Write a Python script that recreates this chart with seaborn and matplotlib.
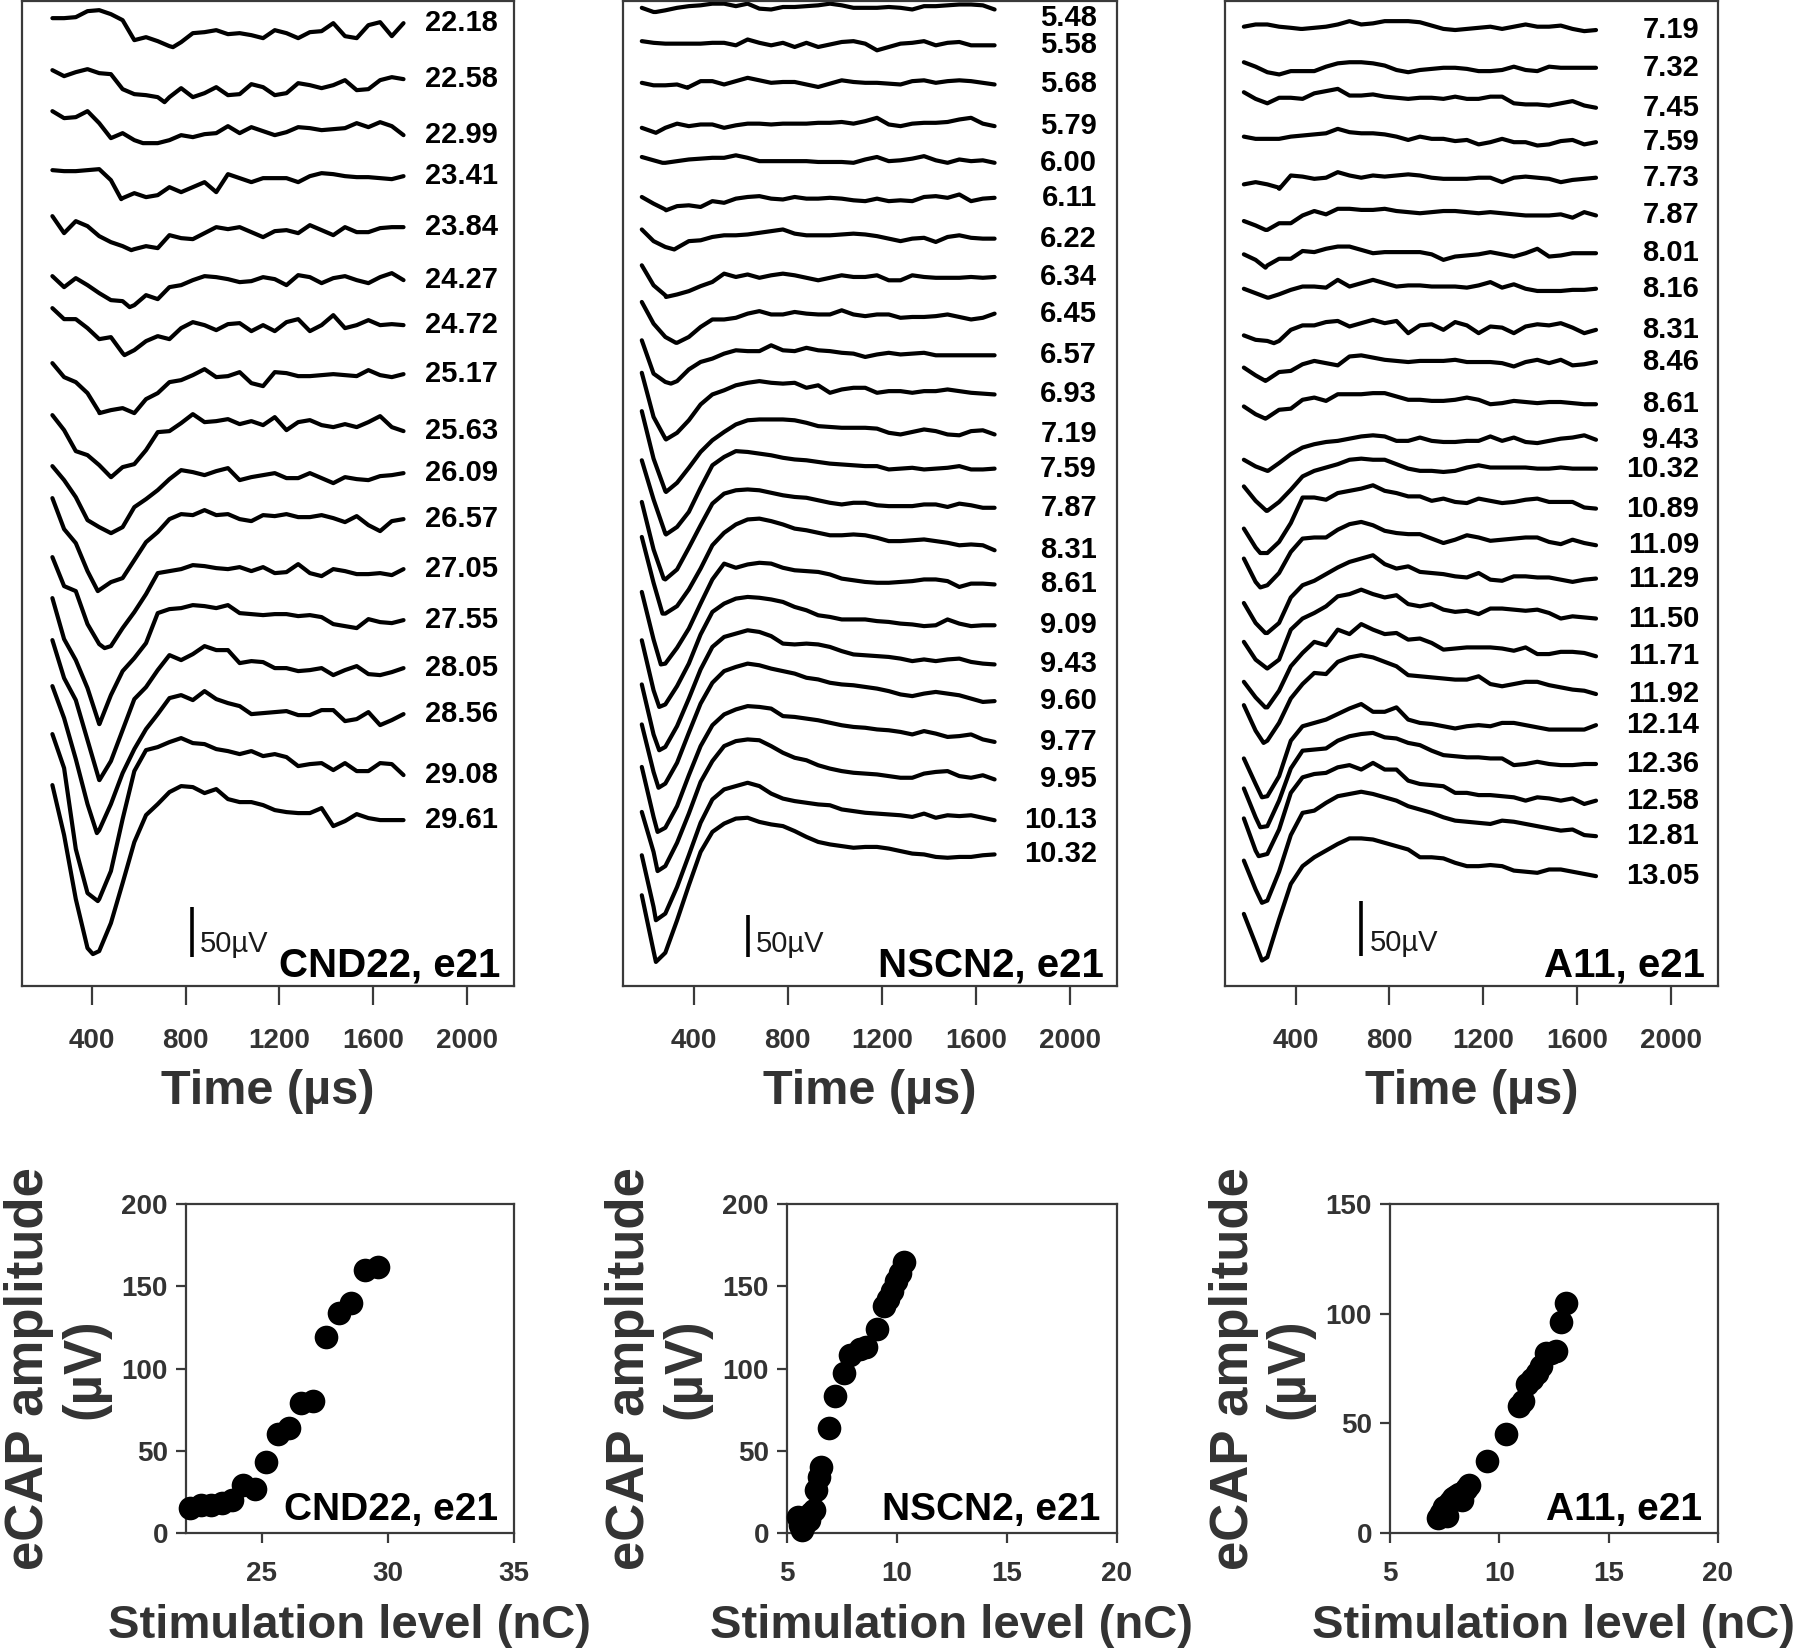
import numpy as np
import matplotlib
matplotlib.use("Agg")
import matplotlib.pyplot as plt
import seaborn as sns

# ---------------- CND22, e21 ----------------
cnd22_levels = [22.18, 22.58, 22.99, 23.41, 23.84, 24.27, 24.72, 25.17, 25.63,
                26.09, 26.57, 27.05, 27.55, 28.05, 28.56, 29.08, 29.61]
cnd22_t0 = 230  # first sample (us), samples every 50 us
# where each trace starts, uV below the top of the panel
cnd22_offsets = [17, 69, 110, 169, 215, 275, 307, 362, 414, 465, 497, 556, 597, 639, 685, 733, 784]
cnd22_traces = [
    [0, 0, 1, 7, 8, 4, -2, -22, -19, -23, -28, -24, -15, -14, -12, -16, -15, -17, -20, -12, -15, -20, -14, -13, -5, -18, -20, -7, -4, -18, -5],
    [0, -6, -2, 1, -3, -4, -19, -24, -25, -27, -27, -18, -27, -23, -17, -25, -24, -14, -17, -25, -23, -13, -15, -18, -15, -10, -20, -19, -10, -7, -9],
    [0, -7, -6, 0, -12, -27, -22, -29, -32, -32, -29, -24, -26, -23, -22, -15, -22, -16, -20, -24, -21, -16, -17, -19, -18, -17, -12, -16, -11, -15, -24],
    [0, -1, -1, 0, 1, -10, -28, -23, -27, -25, -17, -22, -17, -12, -22, -4, -8, -12, -8, -8, -8, -12, -6, -3, -4, -6, -7, -7, -8, -9, -6],
    [0, -17, -5, -10, -20, -26, -30, -33, -30, -32, -19, -22, -23, -17, -11, -13, -11, -16, -21, -15, -14, -17, -9, -14, -19, -11, -16, -16, -12, -11, -11],
    [0, -11, -2, -9, -17, -24, -25, -29, -19, -23, -11, -9, -4, 0, -1, -3, -6, -5, -1, -3, -9, 1, -1, -7, -2, 0, -4, -7, -1, 3, -4],
    [0, -11, -11, -20, -31, -29, -45, -42, -33, -28, -31, -20, -14, -17, -22, -16, -15, -23, -17, -23, -14, -11, -23, -17, -7, -20, -17, -12, -17, -16, -17],
    [0, -14, -19, -30, -49, -47, -45, -50, -36, -30, -19, -17, -12, -6, -14, -13, -9, -20, -23, -9, -10, -13, -13, -12, -11, -12, -13, -7, -12, -14, -11],
    [0, -15, -36, -40, -50, -62, -52, -49, -35, -17, -16, -8, 1, -7, -6, -4, -9, -6, -10, -2, -15, -7, -5, -10, -12, -9, -12, -7, -1, -12, -16],
    [0, -14, -31, -54, -61, -67, -61, -41, -33, -24, -13, -4, -6, -9, -5, -2, -14, -11, -9, -7, -12, -12, -7, -12, -17, -11, -13, -14, -10, -9, -7],
    [0, -31, -45, -73, -92, -84, -80, -62, -44, -34, -21, -16, -17, -12, -17, -16, -21, -23, -17, -18, -16, -19, -19, -17, -20, -24, -18, -27, -33, -23, -21],
    [0, -29, -34, -67, -87, -89, -71, -55, -37, -16, -14, -12, -8, -9, -11, -12, -10, -14, -10, -16, -15, -7, -16, -19, -12, -14, -17, -17, -16, -18, -12],
    [0, -41, -62, -90, -126, -97, -73, -60, -45, -15, -11, -10, -7, -8, -10, -7, -15, -16, -17, -16, -16, -18, -17, -19, -26, -28, -30, -21, -24, -25, -22],
    [0, -38, -60, -100, -140, -121, -90, -59, -47, -30, -15, -20, -14, -6, -10, -10, -23, -21, -22, -28, -28, -31, -30, -28, -35, -30, -26, -34, -35, -32, -28],
    [0, -32, -73, -118, -144, -118, -87, -63, -43, -28, -12, -9, -14, -5, -13, -17, -20, -28, -27, -26, -25, -29, -29, -24, -24, -35, -33, -26, -39, -34, -28],
    [0, -34, -115, -159, -165, -137, -85, -37, -16, -13, -8, -4, -9, -10, -15, -17, -20, -17, -22, -20, -23, -32, -30, -29, -36, -29, -37, -37, -29, -30, -41],
    [0, -50, -114, -163, -166, -138, -98, -57, -30, -19, -7, -1, -2, -8, -4, -14, -17, -17, -20, -25, -27, -28, -28, -23, -41, -36, -29, -33, -35, -35, -35],
]
cnd22_n1_time = [745, 709, 617, 524, 567, 560, 538, 431, 481, 481, 424, 453, 431, 431, 420, 424, 403]
cnd22_n1_amp = [-29, -32, -32, -29, -34, -31, -47, -50, -62, -67, -93, -91, -126, -140, -147, -167, -169]
cnd22_ecap = [15, 17, 17, 18, 20, 29, 27, 43, 60, 64, 79, 80, 119, 134, 140, 160, 162]

# ---------------- NSCN2, e21 ----------------
nscn2_levels = [5.48, 5.58, 5.68, 5.79, 6.00, 6.11, 6.22, 6.34, 6.45, 6.57, 6.93, 7.19,
                7.59, 7.87, 8.31, 8.61, 9.09, 9.43, 9.60, 9.77, 9.95, 10.13, 10.32]
nscn2_t0 = 180
nscn2_offsets = [8, 48, 98, 152, 187, 235, 274, 317, 361, 407, 446, 492,
                 551, 601, 643, 709, 767, 820, 868, 919, 973, 1025, 1073]
nscn2_traces = [
    [0, -5, -3, 0, 2, 3, 5, 5, 2, 5, -1, -2, 1, 1, 2, 3, 5, 3, 0, 0, 0, 1, 0, -2, 2, 2, 3, 4, 4, 3, -2],
    [0, -2, -3, -3, -3, -3, -2, -2, -5, 2, -2, -5, -2, -7, -2, -7, -4, -1, 0, -3, -11, -7, -3, -2, 0, -5, -2, -1, -5, -5, -5],
    [0, -3, -3, -2, -5, 2, 2, -2, 2, 6, 3, 0, 1, 1, -2, -5, -1, 3, 1, 0, 0, -1, -2, 2, 3, 0, 2, 3, 2, 0, -2],
    [0, -5, 0, 5, 2, 4, 4, 0, 3, 5, 5, 4, 5, 5, 5, 6, 6, 7, 5, 8, 12, 4, 2, 5, 6, 6, 7, 10, 12, 5, 2],
    [0, -4, -7, -5, -3, -2, -1, -1, 2, -1, -5, -5, -5, -5, -5, -6, -6, -6, -7, -3, 0, -5, -4, -2, 1, -4, -7, -3, -5, -4, -7],
    [0, -8, -15, -11, -10, -12, -5, -7, -2, 0, 1, -2, -3, 0, -2, -2, -1, -2, -4, -5, -2, -5, -4, -5, 0, 1, -1, 3, -5, -2, -1],
    [0, -14, -21, -22, -14, -13, -9, -7, -7, -6, -4, -2, 0, -5, -7, -7, -7, -6, -5, -6, -8, -11, -14, -11, -10, -15, -9, -7, -10, -11, -11],
    [0, -24, -36, -35, -31, -25, -20, -10, -14, -11, -15, -12, -10, -12, -15, -18, -15, -12, -14, -14, -12, -18, -18, -12, -14, -15, -15, -15, -14, -15, -14],
    [0, -26, -42, -49, -42, -30, -21, -21, -19, -14, -11, -15, -15, -12, -14, -15, -15, -10, -15, -17, -15, -15, -19, -18, -18, -17, -15, -18, -21, -19, -14],
    [0, -40, -50, -49, -35, -26, -22, -16, -12, -13, -13, -6, -12, -13, -9, -12, -13, -15, -16, -20, -17, -15, -17, -16, -15, -18, -18, -18, -18, -18, -18],
    [0, -53, -79, -72, -57, -38, -26, -21, -15, -12, -10, -12, -13, -12, -18, -15, -24, -20, -18, -18, -24, -22, -22, -24, -22, -22, -20, -22, -24, -25, -26],
    [0, -57, -96, -86, -68, -49, -35, -25, -16, -11, -10, -10, -10, -11, -14, -18, -19, -20, -20, -20, -21, -26, -28, -25, -22, -24, -28, -29, -24, -23, -28],
    [0, -47, -88, -80, -62, -33, -6, 4, 11, 10, 8, 6, 3, 1, 0, -2, -4, -5, -6, -7, -7, -11, -10, -9, -11, -10, -9, -7, -11, -11, -10],
    [0, -57, -93, -81, -55, -28, -2, 10, 14, 15, 14, 11, 8, 6, 5, 2, -1, -3, -1, -1, -4, -5, -5, -5, -3, -3, -6, -2, -4, -7, -7],
    [0, -55, -92, -83, -63, -38, -10, 5, 15, 21, 22, 19, 15, 10, 8, 5, 2, 2, 3, 2, -1, -5, -5, -4, -3, -5, -7, -10, -9, -10, -16],
    [0, -57, -86, -67, -44, -14, 15, 34, 29, 33, 35, 34, 29, 26, 25, 24, 21, 16, 14, 12, 11, 11, 12, 13, 15, 15, 13, 6, 10, 10, 9],
    [0, -60, -77, -55, -28, 7, 34, 44, 50, 52, 51, 49, 46, 40, 36, 30, 28, 25, 25, 25, 23, 22, 20, 19, 17, 18, 25, 20, 17, 18, 18],
    [0, -60, -75, -50, -17, 18, 45, 57, 61, 65, 63, 58, 49, 48, 49, 48, 45, 40, 36, 35, 34, 33, 31, 28, 30, 28, 30, 31, 27, 25, 24],
    [0, -57, -71, -46, -10, 25, 50, 64, 69, 73, 71, 67, 64, 61, 56, 54, 50, 48, 47, 45, 43, 40, 36, 34, 37, 39, 37, 35, 31, 27, 28],
    [0, -60, -73, -47, -10, 25, 50, 63, 69, 73, 72, 70, 61, 60, 58, 56, 53, 50, 48, 47, 45, 44, 42, 39, 43, 40, 36, 37, 39, 33, 30],
    [0, -48, -65, -37, -2, 36, 61, 79, 85, 87, 86, 79, 71, 65, 62, 56, 52, 49, 47, 46, 45, 43, 41, 41, 46, 48, 49, 43, 41, 44, 39],
    [0, -62, -70, -38, 0, 39, 67, 79, 83, 87, 83, 74, 68, 65, 63, 61, 60, 55, 53, 51, 50, 49, 48, 46, 50, 45, 48, 47, 48, 45, 42],
    [0, -67, -69, -30, 12, 52, 76, 86, 92, 93, 88, 85, 83, 77, 70, 64, 61, 59, 57, 58, 58, 56, 53, 50, 49, 46, 45, 46, 46, 48, 49],
]
nscn2_n1_time = [240, 304, 375, 240, 268, 283, 318, 283, 325, 304, 283, 283,
                 283, 273, 268, 261, 254, 254, 251, 247, 247, 240, 240]
nscn2_n1_amp = [-5, -3, -6, -6, -7, -16, -24, -38, -49, -52, -80, -97,
                -89, -92, -92, -87, -80, -79, -76, -78, -71, -78, -80]
nscn2_ecap = [10, 5, 2, 5, 8, 12, 14, 26, 34, 40, 64, 83, 97, 108, 112, 113,
              124, 138, 142, 147, 153, 158, 165]

# ---------------- A11, e21 ----------------
a11_levels = [7.19, 7.32, 7.45, 7.59, 7.73, 7.87, 8.01, 8.16, 8.31, 8.46, 8.61, 9.43,
              10.32, 10.89, 11.09, 11.29, 11.50, 11.71, 11.92, 12.14, 12.36, 12.58, 12.81, 13.05]
a11_t0 = 180
a11_offsets = [23, 55, 82, 122, 165, 198, 228, 259, 301, 330, 365, 413,
               437, 475, 502, 542, 577, 613, 634, 682, 709, 736, 774, 822]
a11_traces = [
    [0, 2, 2, 0, -1, -2, -1, 0, 2, 5, 2, 3, 5, 5, 5, 4, 1, -2, -3, -2, -1, 0, -2, 0, 2, 0, 0, 1, -2, -4, -3],
    [0, -4, -9, -11, -8, -8, -8, -4, -1, 0, 0, -1, -3, -7, -9, -7, -6, -5, -5, -6, -8, -8, -7, -4, -7, -8, -4, -5, -5, -5, -5],
    [0, -6, -10, -5, -5, -6, -1, 1, 3, -3, -3, -2, -4, -5, -6, -5, -5, -6, -4, -6, -6, -4, -4, -10, -11, -11, -12, -10, -8, -12, -14],
    [0, -2, -2, -2, 0, 1, 2, 3, 7, 4, 3, 3, 2, 0, -3, 0, -2, -2, -4, -3, -7, -5, -2, -5, -5, -8, -7, -4, -3, -7, -5],
    [0, 2, 0, -3, 8, 7, 5, 6, 11, 8, 6, 8, 7, 8, 9, 8, 6, 5, 5, 5, 6, 6, 2, 6, 7, 6, 5, 2, 4, 5, 6],
    [0, -4, -8, -2, -2, 5, 9, 6, 11, 11, 10, 10, 11, 9, 8, 7, 8, 9, 9, 8, 7, 8, 7, 6, 5, 5, 5, 6, 3, 8, 5],
    [0, -5, -10, -4, -4, 3, 2, 5, 7, 7, 4, 1, 2, 2, 2, 2, 0, -5, -2, -1, 0, 2, 0, -2, 1, 5, -2, -1, 1, 1, 1],
    [0, -4, -8, -5, -1, 2, 2, 1, 8, 2, 5, 8, 5, 2, 3, 3, 2, 2, 2, 1, 3, 6, 1, 4, 0, -2, -2, -2, -1, -1, 0],
    [0, -4, -5, -5, 5, 9, 9, 12, 13, 8, 11, 14, 11, 13, 2, 9, 10, 5, 12, 9, 2, 8, 7, 2, 8, 10, 9, 11, 7, 2, 5],
    [0, -7, -11, -4, -3, 3, 6, 4, 2, 10, 11, 9, 7, 6, 5, 6, 6, 6, 7, 5, 5, 5, 4, 1, 5, 7, 4, 7, 2, 3, 5],
    [0, -7, -10, -3, -2, 6, 8, 5, 11, 11, 11, 12, 12, 9, 6, 6, 5, 5, 6, 8, 6, 2, 3, 5, 4, 3, 4, 4, 3, 2, 2],
    [0, -6, -10, -3, 5, 11, 14, 16, 17, 19, 21, 22, 21, 17, 17, 20, 17, 16, 16, 17, 17, 21, 17, 20, 16, 15, 17, 19, 20, 22, 18],
    [0, -13, -22, -14, -3, 9, 14, 17, 20, 24, 25, 24, 24, 20, 16, 14, 14, 13, 14, 17, 19, 17, 17, 17, 17, 16, 16, 17, 16, 16, 16],
    [0, -17, -22, -12, 5, 28, 28, 26, 32, 34, 36, 39, 34, 32, 29, 29, 25, 27, 24, 23, 27, 25, 23, 24, 26, 27, 24, 24, 24, 19, 18],
    [0, -21, -24, -13, 6, 18, 19, 19, 26, 31, 33, 30, 25, 23, 22, 22, 18, 14, 17, 21, 19, 16, 17, 18, 19, 19, 15, 13, 17, 14, 12],
    [0, -18, -27, -18, 5, 16, 20, 26, 32, 37, 40, 43, 35, 31, 33, 28, 27, 26, 24, 23, 27, 21, 20, 24, 24, 23, 23, 21, 19, 21, 22],
    [0, -16, -24, -16, 11, 21, 26, 32, 41, 43, 47, 43, 40, 42, 34, 32, 34, 29, 27, 28, 25, 30, 30, 29, 28, 29, 26, 21, 23, 22, 21],
    [0, -14, -23, -8, 14, 26, 36, 33, 47, 43, 52, 47, 43, 44, 38, 39, 35, 29, 30, 31, 31, 31, 30, 28, 31, 25, 25, 27, 27, 26, 23],
    [0, -23, -32, -16, 6, 19, 29, 28, 39, 43, 45, 43, 39, 35, 27, 26, 25, 24, 23, 23, 26, 19, 17, 19, 21, 21, 18, 16, 14, 13, 10],
    [0, -23, -34, -16, 16, 29, 32, 35, 40, 45, 49, 42, 42, 46, 35, 32, 31, 29, 27, 29, 30, 29, 32, 32, 30, 28, 26, 26, 26, 26, 30],
    [0, -26, -34, -11, 18, 34, 35, 36, 43, 47, 49, 50, 46, 45, 41, 39, 34, 30, 29, 28, 28, 27, 27, 21, 22, 24, 22, 21, 21, 22, 22],
    [0, -29, -32, -10, 23, 37, 40, 41, 46, 48, 44, 50, 44, 44, 34, 31, 30, 29, 23, 23, 21, 21, 20, 19, 16, 19, 18, 16, 18, 13, 16],
    [0, -26, -36, -10, 23, 43, 45, 52, 58, 60, 62, 60, 57, 54, 49, 46, 43, 39, 36, 35, 34, 33, 36, 35, 33, 31, 29, 27, 28, 23, 22],
    [0, -27, -39, -5, 27, 43, 51, 57, 63, 68, 68, 67, 64, 61, 58, 51, 51, 50, 46, 43, 43, 44, 43, 39, 38, 37, 40, 40, 38, 36, 34],
]
a11_n1_time = [422, 331, 280, 280, 331, 272, 272, 286, 308, 272, 272, 283,
               276, 250, 250, 271, 279, 271, 264, 257, 250, 243, 257, 257]
a11_n1_amp = [-2, -11, -10, -2, -4, -8, -12, -8, -7, -12, -11, -10,
              -22, -22, -26, -27, -24, -23, -34, -35, -35, -34, -38, -42]
a11_ecap = [7, 9, 12, 8, 14, 16, 17, 18, 15, 20, 22, 33, 45, 58, 60, 68, 70, 73,
            76, 82, 82, 83, 96, 105]

panel_names = ["CND22, e21", "NSCN2, e21", "A11, e21"]

# ---------------- style ----------------
sns.set_theme(style="ticks")
plt.rcParams["font.family"] = ["Liberation Sans", "DejaVu Sans"]
plt.rcParams.update({
    "font.weight": "bold",
    "axes.labelweight": "bold",
    "axes.edgecolor": "#3a3a3a",
    "axes.linewidth": 1.6,
    "xtick.color": "#3a3a3a",
    "ytick.color": "#3a3a3a",
    "xtick.labelcolor": "#333333",
    "ytick.labelcolor": "#333333",
    "axes.labelcolor": "#333333",
})

fig = plt.figure(figsize=(18, 16.52), dpi=100)

top_pos = [[0.0122, 0.4031, 0.2731, 0.5962],
           [0.3461, 0.4031, 0.2744, 0.5962],
           [0.6806, 0.4031, 0.2739, 0.5962]]
bot_pos = [[0.1033, 0.0720, 0.1822, 0.1992],
           [0.4372, 0.0720, 0.1833, 0.1992],
           [0.7722, 0.0720, 0.1822, 0.1992]]

panels = [
    (cnd22_levels, cnd22_t0, cnd22_offsets, cnd22_traces, cnd22_n1_time, cnd22_n1_amp, cnd22_ecap),
    (nscn2_levels, nscn2_t0, nscn2_offsets, nscn2_traces, nscn2_n1_time, nscn2_n1_amp, nscn2_ecap),
    (a11_levels, a11_t0, a11_offsets, a11_traces, a11_n1_time, a11_n1_amp, a11_ecap),
]
span = [985, 1182, 887]          # vertical extent of each trace panel (uV)
bar_x = [826, 631, 679]          # scale bar position (us)
bar_bottom = [-956, -1147, -860]
label_x = [2134, 2115, 2120]
scatter_xlim = [(22, 35), (5, 20), (5, 20)]
scatter_xticks = [[25, 30, 35], [5, 10, 15, 20], [5, 10, 15, 20]]
scatter_ylim = [200, 200, 150]

for i, (levels, t0, offsets, traces, n1_t, n1_v, ecap) in enumerate(panels):
    # --- stacked eCAP traces ---
    ax = fig.add_axes(top_pos[i])
    top_gap = span[i] * 0.017   # keep the first label inside the frame
    for lev, off, tr, nt, nv in zip(levels, offsets, traces, n1_t, n1_v):
        t = t0 + 50 * np.arange(len(tr))
        tt = np.append(t, nt)
        vv = np.append(np.array(tr, dtype=float), nv) - off
        order = np.argsort(tt, kind="stable")
        sns.lineplot(x=tt[order], y=vv[order], ax=ax, color="black", lw=3.0,
                     estimator=None, sort=False,
                     solid_joinstyle="round", solid_capstyle="round")
        ax.text(label_x[i], min(tr[-1] - off, -top_gap), f"{lev:.2f}", ha="right",
                va="center", fontsize=21, fontweight="bold", color="black")
    ax.vlines(bar_x[i], bar_bottom[i], bar_bottom[i] + 50, color="black", lw=2.6)
    ax.annotate("50µV", (bar_x[i], bar_bottom[i]), xytext=(6, 3.5),
                textcoords="offset points", ha="left", va="baseline",
                fontsize=21, fontweight="normal", color="#1a1a1a")
    ax.text(0.9735, 0.0102, panel_names[i], transform=ax.transAxes, ha="right",
            va="baseline", fontsize=29, fontweight="bold", color="black")
    ax.set_xlim(100, 2200)
    ax.set_ylim(-span[i], 0)
    ax.set_xticks([400, 800, 1200, 1600, 2000])
    ax.set_yticks([])
    ax.tick_params(axis="x", length=14, width=1.6, pad=16, labelsize=20, direction="out")
    ax.set_xlabel("Time (µs)", fontsize=35, labelpad=11)
    ax.set_ylabel("")

    # --- amplitude growth function ---
    bx = fig.add_axes(bot_pos[i])
    sns.scatterplot(x=levels, y=ecap, ax=bx, color="black", s=290, linewidth=0,
                    clip_on=False, zorder=3)
    bx.set_xlim(*scatter_xlim[i])
    bx.set_xticks(scatter_xticks[i])
    bx.set_ylim(0, scatter_ylim[i])
    bx.set_yticks(np.arange(0, scatter_ylim[i] + 1, 50))
    bx.tick_params(axis="x", length=7, width=1.6, pad=13, labelsize=20, direction="out")
    bx.tick_params(axis="y", length=7, width=1.6, pad=6, labelsize=20, direction="out")
    bx.text(0.951, 0.04, panel_names[i], transform=bx.transAxes, ha="right",
            va="baseline", fontsize=28, fontweight="bold", color="black")
    bx.set_xlabel("Stimulation level (nC)", fontsize=34, labelpad=12)
    bx.set_ylabel("eCAP amplitude\n(µV)", fontsize=38, labelpad=8, linespacing=1.15)

fig.savefig("out.png", dpi=100, facecolor="white")
